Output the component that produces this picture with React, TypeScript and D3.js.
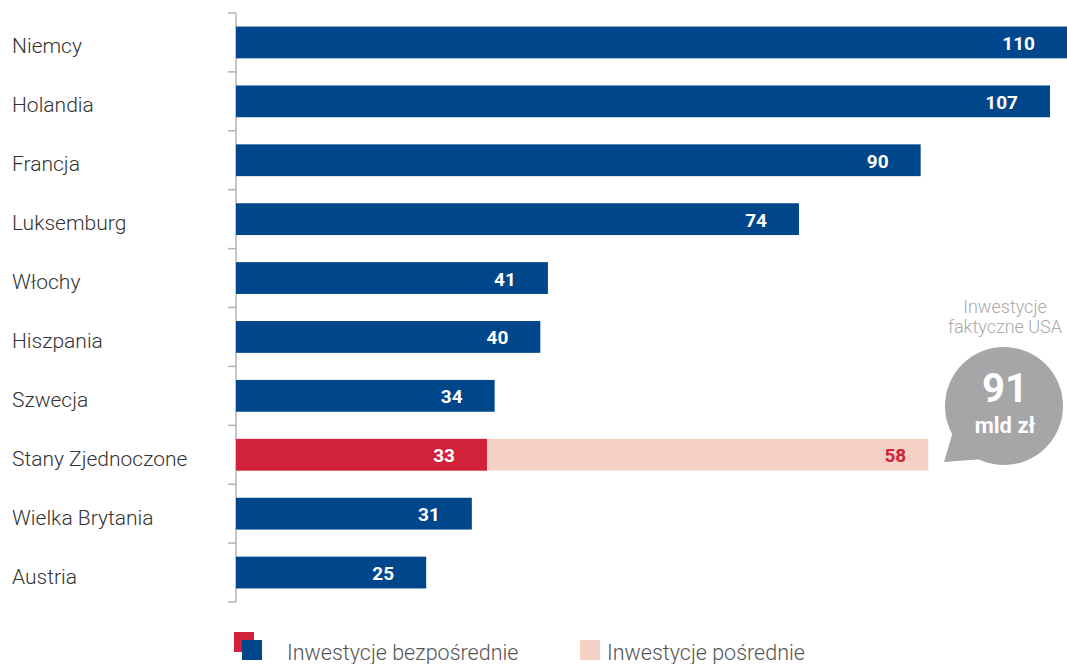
import React, { useEffect, useRef } from 'react';
import * as d3 from 'd3';

const categories = ['Niemcy', 'Holandia', 'Francja', 'Luksemburg', 'Włochy', 'Hiszpania', 'Szwecja', 'Stany Zjednoczone', 'Wielka Brytania', 'Austria'];
const directValues = [110, 107, 90, 74, 41, 40, 34, 33, 31, 25];
const indirectValues = [0, 0, 0, 0, 0, 0, 0, 58, 0, 0];
const highlight = 'Stany Zjednoczone';
const legendLabels = ['Inwestycje bezpośrednie', 'Inwestycje pośrednie'];
const bubbleValue = '91';
const bubbleUnit = 'mld zł';
const bubbleTitle = ['Inwestycje', 'faktyczne USA'];

const BLUE = '#00468b';
const RED = '#d2213a';
const PINK = '#f5d0c4';
const GRAY = '#a6a6a9';
const FONT = 'Roboto, "Liberation Sans", Arial, sans-serif';

const App: React.FC = () => {
  const svgRef = useRef<SVGSVGElement>(null);

  useEffect(() => {
    if (!svgRef.current) return;
    const width = 1067;
    const height = 664;

    d3.select(svgRef.current).selectAll('*').remove();
    const svg = d3.select(svgRef.current)
      .attr('width', width)
      .attr('height', height)
      .style('font-family', FONT);

    const x = d3.scaleLinear().domain([0, 107]).range([236, 1050]);
    const y = d3.scaleBand<string>()
      .domain(categories)
      .range([13, 602])
      .paddingInner(0.46)
      .paddingOuter(0.23);

    const data = categories.map((c, i) => ({ c, direct: directValues[i], indirect: indirectValues[i] }));

    // axis line + ticks at band boundaries
    const axis = svg.append('g');
    axis.append('line')
      .attr('x1', x(0)).attr('x2', x(0))
      .attr('y1', y.range()[0]).attr('y2', y.range()[1])
      .attr('stroke', '#b3b3b3').attr('stroke-width', 1.5);
    const bounds = categories.map(c => (y(c) as number) - (y.step() * y.paddingInner()) / 2);
    bounds.push(y.range()[1]);
    axis.selectAll('line.tick')
      .data(bounds)
      .enter()
      .append('line')
      .attr('class', 'tick')
      .attr('x1', x(0) - 8).attr('x2', x(0))
      .attr('y1', d => d).attr('y2', d => d)
      .attr('stroke', '#b3b3b3').attr('stroke-width', 1.5);

    // category labels
    svg.append('g').selectAll('text')
      .data(data)
      .enter()
      .append('text')
      .attr('x', 12)
      .attr('y', d => (y(d.c) as number) + y.bandwidth() / 2 + 11)
      .attr('fill', '#333')
      .style('font-size', '21px')
      .style('font-weight', 300)
      .text(d => d.c);

    // bars
    const bars = svg.append('g');
    bars.selectAll('rect.direct')
      .data(data)
      .enter()
      .append('rect')
      .attr('class', 'direct')
      .attr('x', x(0))
      .attr('y', d => y(d.c) as number)
      .attr('width', d => x(d.direct) - x(0))
      .attr('height', y.bandwidth())
      .attr('fill', d => (d.c === highlight ? RED : BLUE));
    bars.selectAll('rect.indirect')
      .data(data.filter(d => d.indirect > 0))
      .enter()
      .append('rect')
      .attr('class', 'indirect')
      .attr('x', d => x(d.direct))
      .attr('y', d => y(d.c) as number)
      .attr('width', d => x(d.direct + d.indirect) - x(d.direct))
      .attr('height', y.bandwidth())
      .attr('fill', PINK);

    // value labels
    const labels = svg.append('g')
      .style('font-size', '19px')
      .style('font-weight', 'bold')
      .attr('text-anchor', 'end');
    labels.selectAll('text.direct')
      .data(data)
      .enter()
      .append('text')
      .attr('x', d => Math.min(x(d.direct), width) - 32)
      .attr('y', d => (y(d.c) as number) + y.bandwidth() / 2 + 7.5)
      .attr('fill', '#fff')
      .text(d => d.direct);
    labels.selectAll('text.indirect')
      .data(data.filter(d => d.indirect > 0))
      .enter()
      .append('text')
      .attr('x', d => x(d.direct + d.indirect) - 22)
      .attr('y', d => (y(d.c) as number) + y.bandwidth() / 2 + 7.5)
      .attr('fill', RED)
      .text(d => d.indirect);

    // speech bubble
    const bub = svg.append('g');
    const cx = 1004, cy = 406, r = 59;
    bub.append('circle').attr('cx', cx).attr('cy', cy).attr('r', r).attr('fill', GRAY);
    bub.append('path')
      .attr('d', `M${cx - 50},${cy + 22} L${cx - 60},${cy + 56} L${cx - 20},${cy + 53} Z`)
      .attr('fill', GRAY);
    bub.append('text')
      .attr('x', cx + 1).attr('y', cy - 4)
      .attr('text-anchor', 'middle')
      .attr('fill', '#fff')
      .style('font-size', '40px').style('font-weight', 'bold')
      .text(bubbleValue);
    bub.append('text')
      .attr('x', cx + 1).attr('y', cy + 27)
      .attr('text-anchor', 'middle')
      .attr('fill', '#fff')
      .style('font-size', '22px').style('font-weight', 'bold')
      .text(bubbleUnit);
    bub.selectAll('text.title')
      .data(bubbleTitle)
      .enter()
      .append('text')
      .attr('class', 'title')
      .attr('x', cx + 1)
      .attr('y', (_, i) => 313 + i * 20)
      .attr('text-anchor', 'middle')
      .attr('fill', '#a9a9a9')
      .style('font-size', '18px')
      .style('font-weight', 300)
      .text(d => d);

    // legend
    const leg = svg.append('g').style('font-size', '21.5px').style('font-weight', 300);
    leg.append('rect').attr('x', 234).attr('y', 632).attr('width', 20).attr('height', 20).attr('fill', RED);
    leg.append('rect').attr('x', 242).attr('y', 640).attr('width', 20).attr('height', 20).attr('fill', BLUE);
    leg.append('text').attr('x', 287).attr('y', 660).attr('fill', '#555').text(legendLabels[0]);
    leg.append('rect').attr('x', 580).attr('y', 640).attr('width', 20).attr('height', 20).attr('fill', PINK);
    leg.append('text').attr('x', 607).attr('y', 660).attr('fill', '#555').text(legendLabels[1]);
  }, []);

  return (
    <div style={{ position: 'absolute', left: 0, top: 0, width: 1067, height: 664, overflow: 'hidden', background: '#fff' }}>
      <svg ref={svgRef}></svg>
    </div>
  );
};

export default App;
